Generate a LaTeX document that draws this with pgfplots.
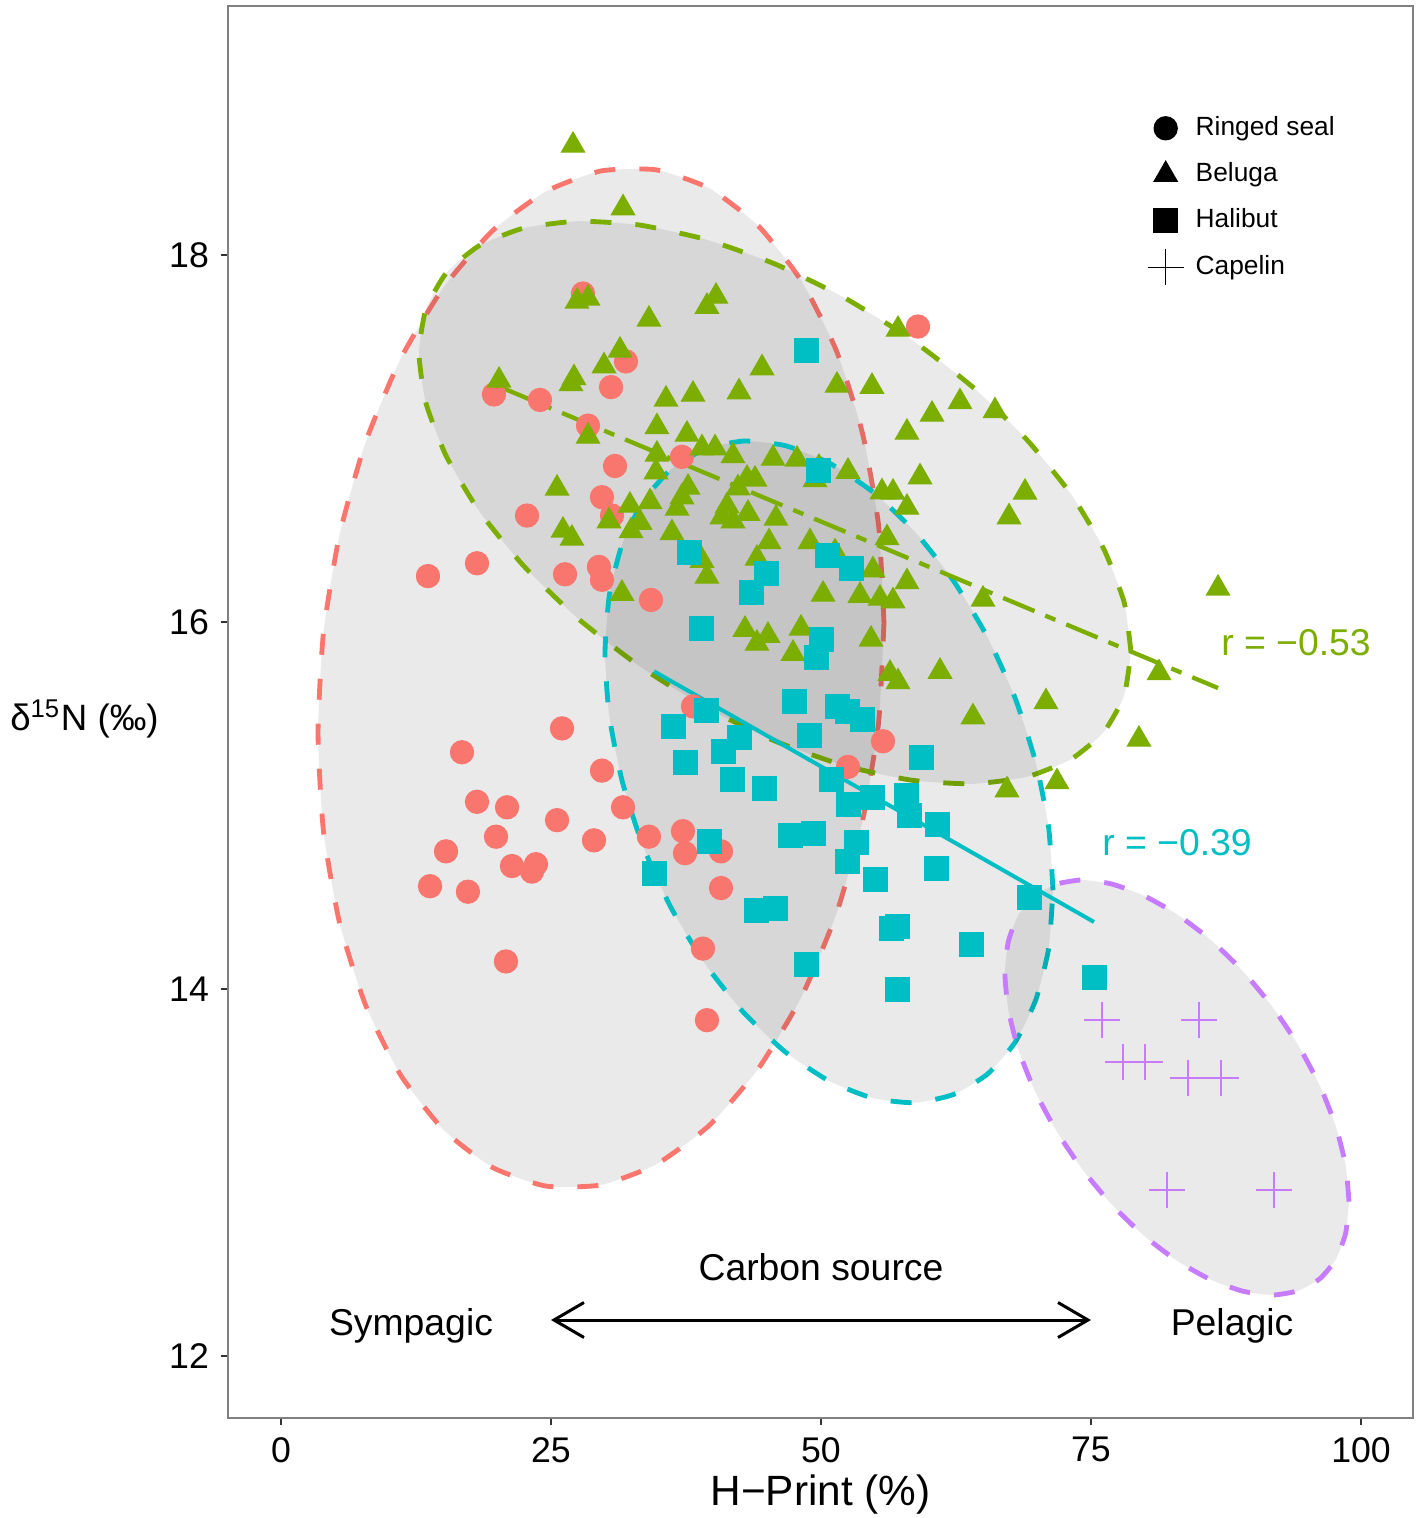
\documentclass[border=0pt]{standalone}
\usepackage{fontspec}
\setmainfont{Liberation Sans}
\usepackage{pgfplots}
\pgfplotsset{compat=1.18}
\usetikzlibrary{arrows.meta}
\definecolor{cseal}{HTML}{F8766D}
\definecolor{cbel}{HTML}{7CAE00}
\definecolor{chal}{HTML}{00BFC4}
\definecolor{ccap}{HTML}{C77CFF}
\pgfplotsset{
  legimg/.style={legend image code/.code={%
    \path[use as bounding box, draw=none, fill=none] (0pt,-6.95pt) rectangle (17pt,6.95pt);
    \draw[##1] plot coordinates {(8.5pt,0pt)};}},
  ell/.style={smooth, tension=0.34, fill=black, fill opacity=0.082, draw opacity=1, line width=1.45pt,
    dash pattern=on 6.3pt off 7.2pt, line join=round, forget plot},
}
\begin{document}
\begin{tikzpicture}
\useasboundingbox (-68.4pt,-30pt) rectangle (357.9pt,425.4pt);
\begin{axis}[
  scale only axis, width=355.5pt, height=423.6pt,
  xmin=-4.907, xmax=104.815, ymin=11.662, ymax=19.357,
  xtick={0,25,50,75,100}, ytick={12,14,16,18},
  tick pos=left, tick align=outside, major tick length=2.2pt,
  every tick/.style={black!80, line width=0.6pt},
  axis line style={draw=black!50, line width=0.6pt},
  /pgf/number format/assume math mode=true,
  ticklabel style={font=\fontsize{10.7}{12}\selectfont, text=black},
  xlabel={H−Print (\%)},
  xlabel style={at={(axis description cs:0.5,0)}, anchor=base, yshift=-26.1pt,
    font=\fontsize{12.7}{15}\selectfont},
  ylabel={δ\textsuperscript{15}N (‰)},
  ylabel style={rotate=-90, at={(axis description cs:-0.1211,0.495)}, anchor=center,
    font=\fontsize{11}{13}\selectfont},
  legend style={draw=none, fill=none, inner sep=0pt, outer sep=0pt,
    at={(rel axis cs:0.7674,0.9298)}, anchor=north west,
    font=\fontsize{7.9}{9.5}\selectfont, row sep=0pt, nodes={inner sep=0.5pt}},
  legend cell align=left,
]
% Ringed seal
\addplot[only marks, forget plot, mark=*, mark size=3.45pt, color=cseal] coordinates {
(13.61,16.25) (18.15,16.32) (19.72,17.24) (23.98,17.21) (28.43,17.07) (30.56,17.28)
(31.94,17.42) (30.93,16.85) (30.65,16.58) (22.78,16.58) (26.30,16.26) (29.72,16.68)
(29.44,16.30) (29.72,16.23) (34.26,16.12) (37.13,16.90) (58.98,17.61) (27.96,17.79)
(26.02,15.42) (16.76,15.29) (29.72,15.19) (18.15,15.02) (20.93,14.99) (25.56,14.92)
(31.67,14.99) (19.91,14.83) (28.98,14.81) (15.28,14.75) (21.39,14.67) (23.61,14.68)
(23.24,14.64) (13.80,14.56) (17.31,14.53) (20.83,14.15) (34.07,14.83) (37.22,14.86)
(37.41,14.74) (40.74,14.75) (40.74,14.55) (39.07,14.22) (39.44,13.83) (38.15,15.54)
(52.50,15.21) (55.74,15.35)};
% Beluga
\addplot[only marks, forget plot, mark=triangle*, mark size=3.95pt, color=cbel] coordinates {
(27.04,18.597) (31.67,18.256) (27.41,17.747) (28.43,17.763) (40.28,17.774) (39.44,17.719)
(34.07,17.649) (31.39,17.480) (29.91,17.395) (20.19,17.316) (27.13,17.330) (26.85,17.297)
(35.65,17.213) (38.15,17.240) (42.41,17.253) (44.54,17.384) (51.48,17.289) (54.72,17.283)
(57.13,17.594) (62.87,17.199) (60.28,17.131) (66.11,17.150) (57.96,17.033) (59.17,16.790)
(68.89,16.706) (67.41,16.572) (55.65,16.708) (56.67,16.706) (57.96,16.624) (52.50,16.820)
(49.81,16.842) (49.44,16.774) (47.78,16.886) (45.56,16.891) (41.85,16.905) (40.19,16.948)
(38.98,16.948) (43.15,16.782) (43.89,16.777) (42.31,16.730) (41.30,16.632) (41.85,16.550)
(40.83,16.572) (43.24,16.591) (45.83,16.564) (48.98,16.436) (51.30,16.381) (56.11,16.458)
(54.81,16.283) (57.96,16.218) (65.00,16.123) (50.19,16.150) (53.61,16.144) (55.46,16.128)
(56.67,16.114) (45.19,16.436) (44.07,16.346) (48.15,15.965) (47.41,15.828) (54.63,15.905)
(56.39,15.719) (57.13,15.673) (61.02,15.730) (42.96,15.959) (45.09,15.926) (44.07,15.883)
(86.76,16.183) (81.30,15.722) (70.83,15.564) (64.07,15.482) (79.44,15.360) (71.85,15.128)
(67.22,15.084) (28.43,17.011) (34.81,17.063) (37.59,17.022) (34.81,16.913) (34.72,16.817)
(37.69,16.733) (37.13,16.681) (36.67,16.619) (36.20,16.485) (32.31,16.635) (34.17,16.654)
(30.37,16.550) (33.24,16.542) (32.41,16.496) (25.56,16.728) (26.11,16.499) (26.94,16.455)
(31.57,16.155) (38.98,16.335) (39.44,16.248)};
% Halibut
\addplot[only marks, forget plot, mark=square*, mark size=3.55pt, color=chal] coordinates {
(48.70,17.482) (49.81,16.823) (37.78,16.381) (44.91,16.262) (43.61,16.163) (50.56,16.360)
(52.87,16.294) (38.89,15.962) (50.09,15.902) (49.54,15.804) (47.59,15.564) (51.57,15.537)
(52.41,15.510) (53.80,15.466) (48.98,15.384) (39.44,15.515) (36.30,15.433) (42.50,15.373)
(40.93,15.292) (37.50,15.232) (41.85,15.144) (44.81,15.095) (50.93,15.144) (52.50,15.003)
(54.81,15.046) (57.96,15.052) (58.24,14.948) (60.83,14.894) (59.26,15.259) (47.22,14.834)
(49.26,14.850) (53.33,14.796) (39.63,14.801) (52.41,14.692) (55.00,14.594) (60.74,14.654)
(34.54,14.632) (45.83,14.441) (44.07,14.425) (48.70,14.136) (57.04,14.338) (56.57,14.332)
(63.98,14.245) (57.04,13.995) (69.26,14.496) (75.28,14.065)};
% Capelin
\addplot[only marks, forget plot, mark=+, mark size=5.4pt, color=ccap, mark options={line width=0.45pt}] coordinates {
(76.02,13.831) (85.00,13.831) (77.96,13.602) (80.00,13.602) (83.98,13.515) (87.04,13.515)
(82.04,12.905) (91.94,12.905)};
% Ellipses
\addplot[ell, draw=cseal] coordinates {
(55.83,15.995) (55.33,16.528) (53.84,17.029) (51.42,17.479) (48.16,17.861) (44.19,18.159)
(39.66,18.363) (34.74,18.464) (29.63,18.458) (24.52,18.346) (19.60,18.133) (15.07,17.825)
(11.10,17.437) (7.84,16.981) (5.42,16.475) (3.93,15.940) (3.43,15.395) (3.93,14.862)
(5.42,14.361) (7.84,13.911) (11.10,13.529) (15.07,13.231) (19.60,13.027) (24.52,12.926)
(29.63,12.932) (34.74,13.044) (39.66,13.257) (44.19,13.565) (48.16,13.953) (51.42,14.409)
(53.84,14.915) (55.33,15.450) (55.83,15.995)};
\addplot[ell, draw=cbel] coordinates {
(78.70,15.837) (78.07,16.107) (76.19,16.397) (73.15,16.696) (69.05,16.994) (64.05,17.280)
(58.35,17.540) (52.17,17.767) (45.74,17.951) (39.31,18.085) (33.13,18.164) (27.43,18.184)
(22.43,18.146) (18.33,18.050) (15.29,17.901) (13.41,17.703) (12.78,17.465) (13.41,17.195)
(15.29,16.905) (18.33,16.606) (22.43,16.308) (27.43,16.022) (33.13,15.762) (39.31,15.535)
(45.74,15.351) (52.17,15.217) (58.35,15.138) (64.05,15.118) (69.05,15.156) (73.15,15.252)
(76.19,15.401) (78.07,15.599) (78.70,15.837)};
\addplot[ell, draw=chal] coordinates {
(71.48,14.538) (71.08,14.879) (69.90,15.231) (67.99,15.583) (65.41,15.918) (62.26,16.225)
(58.68,16.492) (54.79,16.709) (50.74,16.867) (46.69,16.961) (42.80,16.986) (39.22,16.941)
(36.07,16.830) (33.49,16.655) (31.58,16.423) (30.40,16.145) (30.00,15.828) (30.40,15.487)
(31.58,15.135) (33.49,14.783) (36.07,14.448) (39.22,14.141) (42.80,13.874) (46.69,13.657)
(50.74,13.499) (54.79,13.405) (58.68,13.380) (62.26,13.425) (65.41,13.536) (67.99,13.711)
(69.90,13.943) (71.08,14.221) (71.48,14.538)};
\addplot[ell, draw=ccap] coordinates {
(98.89,12.841) (98.58,13.037) (97.68,13.249) (96.21,13.470) (94.22,13.690) (91.81,13.902)
(89.06,14.097) (86.07,14.268) (82.96,14.407) (79.85,14.510) (76.86,14.573) (74.11,14.594)
(71.70,14.570) (69.71,14.504) (68.24,14.399) (67.34,14.257) (67.03,14.085) (67.34,13.889)
(68.24,13.677) (69.71,13.456) (71.70,13.236) (74.11,13.024) (76.86,12.829) (79.85,12.658)
(82.96,12.519) (86.07,12.416) (89.06,12.353) (91.81,12.332) (94.22,12.356) (96.21,12.422)
(97.68,12.527) (98.58,12.669) (98.89,12.841)};
% Regression lines
\addplot[forget plot, color=cbel, line width=1.3pt, dash pattern=on 10.2pt off 3.5pt on 3.3pt off 3.5pt] coordinates {
(20.19,17.283) (86.76,15.640)};
\addplot[forget plot, color=chal, line width=1.2pt] coordinates {
(34.54,15.731) (75.28,14.365)};
% Carbon source arrow
\addplot[forget plot, black, line width=0.9pt, <->, >={Straight Barb[length=9pt,width=10.5pt]}] coordinates {
(25,12.196) (75,12.196)};
\node[anchor=base, font=\fontsize{11.2}{13}\selectfont] at (axis cs:50,12.414) {Carbon source};
\node[anchor=base, font=\fontsize{11.2}{13}\selectfont] at (axis cs:12.04,12.114) {Sympagic};
\node[anchor=base, font=\fontsize{11.2}{13}\selectfont] at (axis cs:88.06,12.114) {Pelagic};
\node[anchor=base, text=cbel, font=\fontsize{11.2}{13}\selectfont] at (axis cs:93.98,15.82) {r = −0.53};
\node[anchor=base, text=chal, font=\fontsize{11.2}{13}\selectfont] at (axis cs:82.96,14.725) {r = −0.39};
% Legend
\addlegendimage{legimg, black, mark=*, mark size=3.45pt}
\addlegendentry{Ringed seal}
\addlegendimage{legimg, black, mark=triangle*, mark size=3.95pt}
\addlegendentry{Beluga}
\addlegendimage{legimg, black, mark=square*, mark size=3.55pt}
\addlegendentry{Halibut}
\addlegendimage{legimg, black, mark=+, mark size=5.4pt, mark options={line width=0.45pt}}
\addlegendentry{Capelin}
\end{axis}
\end{tikzpicture}
\end{document}
